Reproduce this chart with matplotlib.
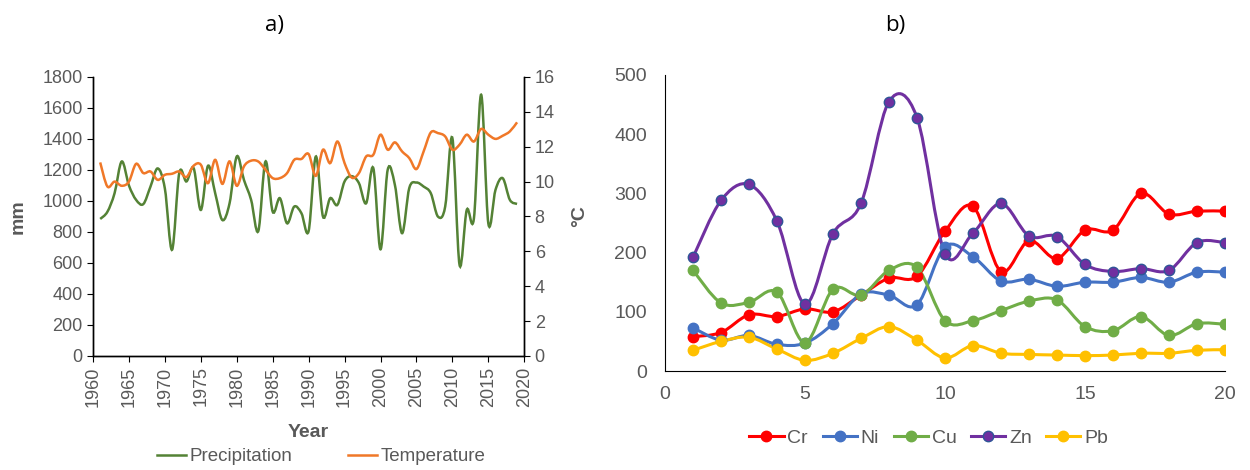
import numpy as np
import matplotlib
matplotlib.use('Agg')
import matplotlib.pyplot as plt
from matplotlib.path import Path
from matplotlib.patches import PathPatch
from matplotlib.lines import Line2D

plt.rcParams['font.family'] = ['Liberation Sans', 'DejaVu Sans']

# a) annual precipitation (mm) and temperature (°C)
years = list(range(1961, 2020))
precip = [884, 930, 1050, 1255, 1100, 1007, 980, 1093, 1210, 1080,
          685, 1180, 1126, 1212, 942, 1227, 1050, 877, 985, 1287,
          1136, 1007, 806, 1255, 931, 1018, 856, 964, 921, 806,
          1287, 899, 1018, 975, 1126, 1160, 1115, 985, 1212, 688,
          1201, 1104, 792, 1083, 1119, 1093, 1050, 899, 964, 1406,
          587, 942, 889, 1686, 856, 1072, 1147, 1007, 981]
temp = [11.1, 9.72, 10.0, 9.76, 10.0, 11.02, 10.49, 10.58, 10.1, 10.39,
        10.45, 10.58, 10.26, 10.91, 10.97, 9.91, 11.25, 9.87, 11.16, 9.76,
        10.87, 11.2, 11.15, 10.68, 10.2, 10.2, 10.49, 11.25, 11.3, 11.58,
        10.33, 11.83, 11.06, 12.3, 11.06, 10.23, 10.49, 11.44, 11.54, 12.69,
        11.83, 12.25, 11.73, 11.35, 10.72, 11.73, 12.82, 12.78, 12.59, 11.83,
        12.12, 12.69, 12.3, 13.02, 12.69, 12.45, 12.63, 12.88, 13.4]

# b) metal concentrations for 20 samples
samples = list(range(1, 21))
cr = [58, 65, 95, 92, 105, 100, 128, 157, 160, 236, 278, 168, 220, 190, 238, 238, 300, 265, 270, 270]
ni = [73, 52, 60, 45, 47, 80, 130, 128, 112, 210, 193, 152, 155, 143, 150, 150, 158, 150, 167, 167]
cu = [170, 115, 116, 133, 48, 138, 128, 170, 175, 85, 85, 102, 118, 120, 75, 68, 92, 60, 80, 79]
zn = [192, 288, 315, 253, 113, 232, 283, 455, 428, 198, 233, 283, 228, 227, 180, 168, 173, 170, 217, 217]
pb = [35, 50, 57, 37, 18, 30, 55, 75, 52, 22, 43, 30, 28, 27, 26, 27, 30, 30, 35, 36]

GRAY = '#595959'


def smooth_path(x, y):
    # excel-like smoothed line: cubic bezier through every point
    x = np.asarray(x, float)
    y = np.asarray(y, float)
    px = np.concatenate([[x[0]], x, [x[-1]]])
    py = np.concatenate([[y[0]], y, [y[-1]]])
    verts = [(x[0], y[0])]
    codes = [Path.MOVETO]
    for i in range(1, len(x)):
        c1 = (px[i] + (px[i + 1] - px[i - 1]) / 6, py[i] + (py[i + 1] - py[i - 1]) / 6)
        c2 = (px[i + 1] - (px[i + 2] - px[i]) / 6, py[i + 1] - (py[i + 2] - py[i]) / 6)
        verts += [c1, c2, (px[i + 1], py[i + 1])]
        codes += [Path.CURVE4] * 3
    return Path(verts, codes)


fig = plt.figure(figsize=(12.5, 4.7), dpi=100)

# ---- a)
ax1 = fig.add_axes([0.0744, 0.2426, 0.345, 0.5936])
ax2 = ax1.twinx()
ax1.add_patch(PathPatch(smooth_path(years, precip), fill=False, ec='#548235', lw=1.8))
ax2.add_patch(PathPatch(smooth_path(years, temp), fill=False, ec='#F07828', lw=1.8))
ax1.set_xlim(1960, 2020)
ax1.set_ylim(0, 1800)
ax2.set_ylim(0, 16)
ax1.set_xticks(range(1960, 2021, 5))
ax1.set_yticks(range(0, 1801, 200))
ax2.set_yticks(range(0, 17, 2))
for a in (ax1, ax2):
    a.spines['top'].set_visible(False)
    for s in ('left', 'right', 'bottom'):
        a.spines[s].set_color('black')
        a.spines[s].set_linewidth(1.0)
    a.tick_params(colors='black', labelcolor=GRAY, labelsize=13, length=4, direction='out')
ax1.tick_params(axis='x', labelrotation=90)
ax1.set_ylabel('mm', fontsize=14, fontweight='bold', color=GRAY)
ax1.yaxis.set_label_coords(-0.153, 0.5)
ax2.set_ylabel('°C', fontsize=14, fontweight='bold', color=GRAY)
ax2.yaxis.set_label_coords(1.109, 0.5)
ax1.set_xlabel('Year', fontsize=14, fontweight='bold', color=GRAY)
ax1.xaxis.set_label_coords(0.499, -0.245)

h1 = [Line2D([], [], color='#548235', lw=1.8), Line2D([], [], color='#F07828', lw=1.8)]
leg1 = fig.legend(h1, ['Precipitation', 'Temperature'], loc='center', bbox_to_anchor=(0.257, 0.028),
                  ncol=2, frameon=False, fontsize=13.5, handlelength=1.5, handletextpad=0.2,
                  columnspacing=3.0, borderpad=0)
for t in leg1.get_texts():
    t.set_color(GRAY)

fig.text(0.22, 0.945, 'a)', fontsize=16, ha='center', va='center', family=['Open Sans', 'DejaVu Sans'])

# ---- b)
ax3 = fig.add_axes([0.532, 0.2106, 0.448, 0.63])
series = [('Cr', cr, '#FF0000', '#FF0000'),
          ('Ni', ni, '#4472C4', '#4472C4'),
          ('Cu', cu, '#70AD47', '#70AD47'),
          ('Zn', zn, '#7030A0', '#2F5597'),
          ('Pb', pb, '#FFC000', '#FFC000')]
handles = []
for name, vals, col, edge in series:
    ax3.add_patch(PathPatch(smooth_path(samples, vals), fill=False, ec=col, lw=2.2, zorder=2))
    ax3.plot(samples, vals, ls='none', marker='o', ms=7.5, mfc=col, mec=edge, mew=1.0, zorder=3)
    handles.append(Line2D([], [], color=col, lw=2.2, marker='o', ms=7.5, mfc=col, mec=edge))
ax3.set_xlim(0, 20)
ax3.set_ylim(0, 500)
ax3.set_xticks(range(0, 21, 5))
ax3.set_yticks(range(0, 501, 100))
ax3.spines['top'].set_visible(False)
ax3.spines['right'].set_visible(False)
ax3.spines['left'].set_color('black')
ax3.spines['bottom'].set_color('black')
ax3.tick_params(length=0, labelcolor=GRAY, labelsize=14)
ax3.tick_params(axis='y', pad=13)
ax3.tick_params(axis='x', pad=11)

leg2 = fig.legend(handles, [s[0] for s in series], loc='center', bbox_to_anchor=(0.743, 0.068),
                  ncol=5, frameon=False, fontsize=14, handlelength=1.75, handletextpad=0.2,
                  columnspacing=0.75, borderpad=0)
for t in leg2.get_texts():
    t.set_color(GRAY)

fig.text(0.716, 0.945, 'b)', fontsize=16, ha='center', va='center', family=['Open Sans', 'DejaVu Sans'])

fig.savefig('out.png', dpi=100)
